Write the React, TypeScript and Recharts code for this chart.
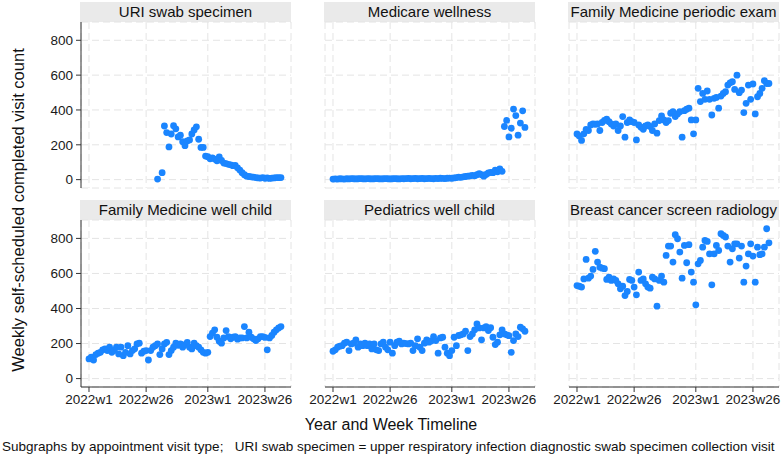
import { ScatterChart, Scatter, XAxis, YAxis, CartesianGrid } from 'recharts';

// week index 0 = 2022w1, one value per week up to 2023w33 (85 weeks)
const weekTicks = [0, 25, 52, 77];
const weekTickLabels = ['2022w1', '2022w26', '2023w1', '2023w26'];
const countTicks = [0, 200, 400, 600, 800];

const panelTitles = [
  'URI swab specimen',
  'Medicare wellness',
  'Family Medicine periodic exam',
  'Family Medicine well child',
  'Pediatrics well child',
  'Breast cancer screen radiology',
];

const uriSwab = [
  null, null, null, null, null, null, null, null, null, null,
  null, null, null, null, null, null, null, null, null, null,
  null, null, null, null, null, null, null, null, null, null,
  3, null, 40, 308, 270, 188, 262, 310, 292, 245,
  255, 218, 195, 222, 228, 262, 285, 303, 232, 185,
  185, 135, 132, 120, 125, 118, 108, 130, 110, 95,
  92, 88, 85, 80, 82, 68, 55, 40, 28, 20,
  18, 16, 14, 12, 10, 9, 11, 8, 10, 7,
  9, 10, 12, 11, 12,
];

const medicareWellness = [
  3, 4, 3, 5, 4, 3, 5, 4, 6, 5,
  4, 5, 6, 5, 4, 6, 5, 4, 5, 6,
  5, 4, 5, 6, 5, 4, 5, 6, 5, 4,
  6, 5, 6, 7, 5, 6, 7, 5, 6, 7,
  5, 6, 7, 6, 5, 7, 6, 8, 7, 6,
  8, 9, 8, 10, 12, 14, 13, 16, 18, 20,
  22, 24, 22, 28, 35, 28, 20, 30, 38, 42,
  40, 55, 45, 62, 48, 305, 340, 245, 295, 405,
  368, 255, 325, 395, 300,
];

const fmPeriodicExam = [
  262, 251, 225, 263, 289, 282, 314, 320, 318, 320,
  282, 328, 340, 347, 333, 320, 308, 320, 282, 308,
  362, 244, 328, 343, 333, 328, 228, 314, 301, 289,
  308, 314, 305, 282, 320, 267, 339, 366, 343, 328,
  339, 381, 390, 362, 377, 390, 244, 396, 404, 410,
  343, 263, 343, 524, 448, 495, 461, 509, 461, 371,
  467, 472, 410, 480, 495, 505, 543, 556, 562, 518,
  600, 499, 514, 385, 438, 543, 461, 549, 377, 476,
  495, 524, 568, 552, 552,
];

const fmWellChild = [
  112, 122, 106, 137, 145, 150, 164, 169, 160, 179,
  150, 160, 179, 141, 179, 131, 150, 188, 141, 160,
  170, 198, 202, 145, 156, 160, 106, 160, 179, 188,
  198, 137, 169, 198, 207, 137, 160, 179, 202, 190,
  198, 179, 194, 207, 179, 169, 202, 188, 179, 164,
  150, 145, 150, 240, 259, 278, 236, 213, 202, 232,
  274, 240, 227, 236, 240, 225, 232, 232, 297, 232,
  265, 236, 227, 217, 227, 240, 240, 235, 164, 232,
  246, 265, 278, 289, 297,
];

const pedsWellChild = [
  156, 164, 179, 185, 188, 202, 208, 160, 198, 202,
  221, 179, 198, 188, 202, 188, 198, 169, 198, 164,
  160, 198, 208, 179, 164, 208, 145, 188, 208, 213,
  198, 202, 200, 198, 202, 160, 188, 227, 179, 160,
  202, 221, 208, 215, 240, 217, 145, 232, 236, 179,
  145, 131, 160, 236, 188, 246, 250, 255, 270, 160,
  240, 255, 278, 312, 289, 221, 289, 297, 274, 290,
  236, 194, 208, 250, 278, 255, 250, 245, 150, 217,
  255, 240, 293, 284, 270,
];

const breastCancerScreen = [
  531, 527, 522, 569, 680, 573, 585, 623, 726, 665,
  636, 630, 627, 566, 579, 560, 569, 560, 541, 512,
  527, 474, 497, 566, 560, 522, 478, 608, 560, 569,
  541, 522, 516, 579, 569, 413, 560, 585, 550, 703,
  756, 756, 665, 821, 798, 722, 573, 760, 661, 764,
  608, 550, 421, 655, 674, 750, 788, 783, 712, 535,
  712, 760, 731, 827, 817, 808, 756, 665, 741, 769,
  769, 688, 756, 550, 642, 712, 769, 699, 550, 750,
  707, 712, 750, 855, 775,
];

const panelValues = [uriSwab, medicareWellness, fmPeriodicExam, fmWellChild, pedsWellChild, breastCancerScreen];

const FONT = '"Liberation Sans", Arial, Helvetica, sans-serif';
const DOT = '#1a85ff';
const PLOT_LEFT = [81, 325, 569];
const PLOT_W = 210;
const PLOT_TOP = [22, 220];
const PLOT_H = [166, 167];
const TITLE_TOP = [2, 200];
const M = { top: 5, right: 30, bottom: 5, left: 30 };

const weekLabel = (w: number) => weekTickLabels[weekTicks.indexOf(w)] ?? '';

const Dot = (p: any) => <circle cx={p.cx} cy={p.cy} r={3.4} fill={DOT} />;

function Panel({ idx }: { idx: number }) {
  const col = idx % 3;
  const row = Math.floor(idx / 3);
  const showY = col === 0;
  const showX = row === 1;
  const yW = showY ? 45 : 0;
  const xH = showX ? 25 : 0;
  const pts = panelValues[idx]
    .map((v, i) => ({ week: i, count: v }))
    .filter((d) => d.count !== null);

  return (
    <>
      <div
        style={{
          position: 'absolute',
          left: PLOT_LEFT[col] - 1,
          top: TITLE_TOP[row],
          width: PLOT_W + 1,
          height: 20,
          background: '#eaeaea',
          color: '#111',
          fontFamily: FONT,
          fontSize: 15,
          lineHeight: '20px',
          textAlign: 'center',
          whiteSpace: 'nowrap',
        }}
      >
        {panelTitles[idx]}
      </div>
      <div style={{ position: 'absolute', left: PLOT_LEFT[col] - M.left - yW, top: PLOT_TOP[row] - M.top }}>
        <ScatterChart
          width={PLOT_W + yW + M.left + M.right}
          height={PLOT_H[row] + xH + M.top + M.bottom}
          margin={M}
        >
          <CartesianGrid stroke="#e4e4e4" strokeDasharray="7 4" />
          <XAxis
            type="number"
            dataKey="week"
            domain={[-3.5, 88.4]}
            ticks={weekTicks}
            tickFormatter={weekLabel}
            hide={!showX}
            height={xH}
            allowDataOverflow
            interval={0}
            axisLine={{ stroke: '#333' }}
            tickLine={{ stroke: '#333' }}
            tickSize={5}
            tickMargin={2}
            tick={{ fill: '#1a1a1a', fontSize: 13.5, fontFamily: FONT }}
          />
          <YAxis
            type="number"
            dataKey="count"
            domain={[-48, 905]}
            ticks={countTicks}
            hide={!showY}
            width={yW}
            allowDataOverflow
            interval={0}
            axisLine={{ stroke: '#333' }}
            tickLine={{ stroke: '#333' }}
            tickSize={5}
            tickMargin={3}
            tick={{ fill: '#1a1a1a', fontSize: 13.5, fontFamily: FONT }}
          />
          <Scatter data={pts} fill={DOT} shape={Dot} isAnimationActive={false} />
        </ScatterChart>
      </div>
    </>
  );
}

export default function App() {
  return (
    <div style={{ position: 'absolute', left: 0, top: 0, width: 782, height: 456, background: '#fff', overflow: 'hidden' }}>
      {panelTitles.map((_, i) => (
        <Panel key={i} idx={i} />
      ))}
      <svg width={782} height={456} style={{ position: 'absolute', left: 0, top: 0, pointerEvents: 'none' }}>
        <text
          transform="translate(18,210) rotate(-90)"
          textAnchor="middle"
          dominantBaseline="central"
          fontFamily={FONT}
          fontSize={16.5}
          fill="#111"
        >
          Weekly self-scheduled completed visit count
        </text>
        <text x={391} y={424} textAnchor="middle" dominantBaseline="central" fontFamily={FONT} fontSize={16} fill="#111">
          Year and Week Timeline
        </text>
        <text x={2} y={446} dominantBaseline="central" fontFamily={FONT} fontSize={13.5} fill="#111" style={{ whiteSpace: 'pre' }}>
          {'Subgraphs by appointment visit type;   URI swab specimen = upper respiratory infection diagnostic swab specimen collection visit'}
        </text>
      </svg>
    </div>
  );
}
